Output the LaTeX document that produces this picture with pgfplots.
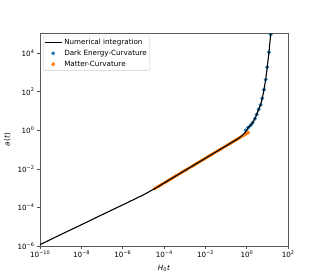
\documentclass[border=0pt]{standalone}
\usepackage{fontspec}
\setmainfont{DejaVu Sans}
\usepackage{pgfplots}
\pgfplotsset{compat=1.18}
\definecolor{tabblue}{RGB}{31,119,180}
\definecolor{taborange}{RGB}{255,127,14}
\newcommand\p[1]{10\raisebox{0.8ex}{\fontsize{5}{5}\selectfont #1}}
\begin{document}
\begin{tikzpicture}
\useasboundingbox (-40bp,-34bp) rectangle (280bp,246bp);
\begin{axis}[
 scale only axis, width=248bp, height=213bp,
 xmode=log, ymode=log,
 xmin=1e-10, xmax=1e2, ymin=1e-6, ymax=1.1e5,
 clip marker paths=true,
 xtick={1e-10,1e-8,1e-6,1e-4,1e-2,1,1e2},
 xticklabels={\p{−10},\p{−8},\p{−6},\p{−4},\p{−2},\p{0},\p{2}},
 ytick={1e-6,1e-4,1e-2,1,1e2,1e4},
 yticklabels={\p{−6},\p{−4},\p{−2},\p{0},\p{2},\p{4}},
 minor tick num=0,
 tick align=outside, xtick pos=bottom, ytick pos=left,
 major tick length=2.5bp,
 tick style={black!70, line width=0.5pt},
 axis line style={black!65, line width=0.7pt},
 ticklabel style={font=\fontsize{7.2}{8}\selectfont},
 xticklabel style={yshift=1bp},
 label style={font=\fontsize{7.2}{8}\selectfont},
 xlabel={\textit{H}\textsubscript{0}\textit{t}},
 ylabel={\textit{a}(\textit{t})},
 legend style={at={(0.012,0.987)}, anchor=north west, draw=black!20, rounded corners=2pt,
   font=\fontsize{7.2}{8.6}\selectfont, inner sep=1pt, row sep=0pt,
   /tikz/every even column/.append style={column sep=2pt}},
 legend cell align=left,
]
\addplot[only marks, mark=*, mark size=1.8bp, color=tabblue, forget plot] coordinates {
(0.895,1.0) (1.19,1.38) (1.56,1.82) (1.95,2.45) (2.52,3.98) (3.05,6.6) (3.80,12.0)
(4.75,20.9) (5.69,45.7) (6.87,126) (8.3,417) (9.9,1862) (12.0,10965) (14.5,91200)
};
\addplot[only marks, mark=*, mark size=1.7bp, color=taborange, forget plot] coordinates {
(3.63e-5,9.55e-4) (4.57e-5,1.107e-3) (5.75e-5,1.283e-3) (7.24e-5,1.488e-3)
(9.12e-5,1.725e-3) (1.148e-4,2.000e-3) (1.445e-4,2.319e-3) (1.820e-4,2.689e-3)
(2.291e-4,3.117e-3) (2.884e-4,3.614e-3) (3.63e-4,4.188e-3) (4.57e-4,4.856e-3)
(5.75e-4,5.627e-3) (7.24e-4,6.524e-3) (9.12e-4,7.565e-3) (1.148e-3,8.771e-3)
(1.445e-3,1.017e-2) (1.820e-3,1.179e-2) (2.291e-3,1.367e-2) (2.884e-3,1.585e-2)
(3.63e-3,1.837e-2) (4.57e-3,2.130e-2) (5.75e-3,2.469e-2) (7.24e-3,2.863e-2)
(9.12e-3,3.318e-2) (1.148e-2,3.847e-2) (1.445e-2,4.460e-2) (1.820e-2,5.171e-2)
(2.291e-2,5.994e-2) (2.884e-2,6.949e-2) (3.63e-2,8.054e-2) (4.57e-2,9.338e-2)
(5.75e-2,0.1082) (7.24e-2,0.1254) (9.12e-2,0.1455) (0.1148,0.1687)
(0.1445,0.1955) (0.1820,0.2267) (0.2291,0.2628) (0.2884,0.3047)
(0.363,0.3532) (0.457,0.4095) (0.575,0.4746) (0.724,0.5502)
(0.912,0.6379) (1.05,0.70) (1.2,0.76)
};
\addplot[black, line width=1.1bp] coordinates {
(1e-10,1.17e-6) (1e-9,3.89e-6) (1e-8,1.26e-5) (1e-7,4.17e-5) (1e-6,1.35e-4)
(1e-5,4.47e-4) (3.63e-5,9.55e-4) (1e-4,1.83e-3) (1e-3,8.02e-3) (1e-2,3.52e-2)
(0.1,0.1543) (0.363,0.3532) (0.6,0.53) (0.9,0.82) (1.19,1.38) (1.56,1.82)
(1.95,2.45) (2.52,3.98) (3.05,6.6) (3.80,12.0) (4.75,20.9) (5.69,45.7)
(6.87,126) (8.3,417) (9.9,1862) (12.0,10965) (14.5,91200) (16.6,5e5)
};
\addlegendentry{Numerical integration}
\addlegendimage{only marks, mark=*, mark size=1.8bp, color=tabblue}
\addlegendentry{Dark Energy-Curvature}
\addlegendimage{only marks, mark=*, mark size=1.8bp, color=taborange}
\addlegendentry{Matter-Curvature}
\end{axis}
\end{tikzpicture}
\end{document}
